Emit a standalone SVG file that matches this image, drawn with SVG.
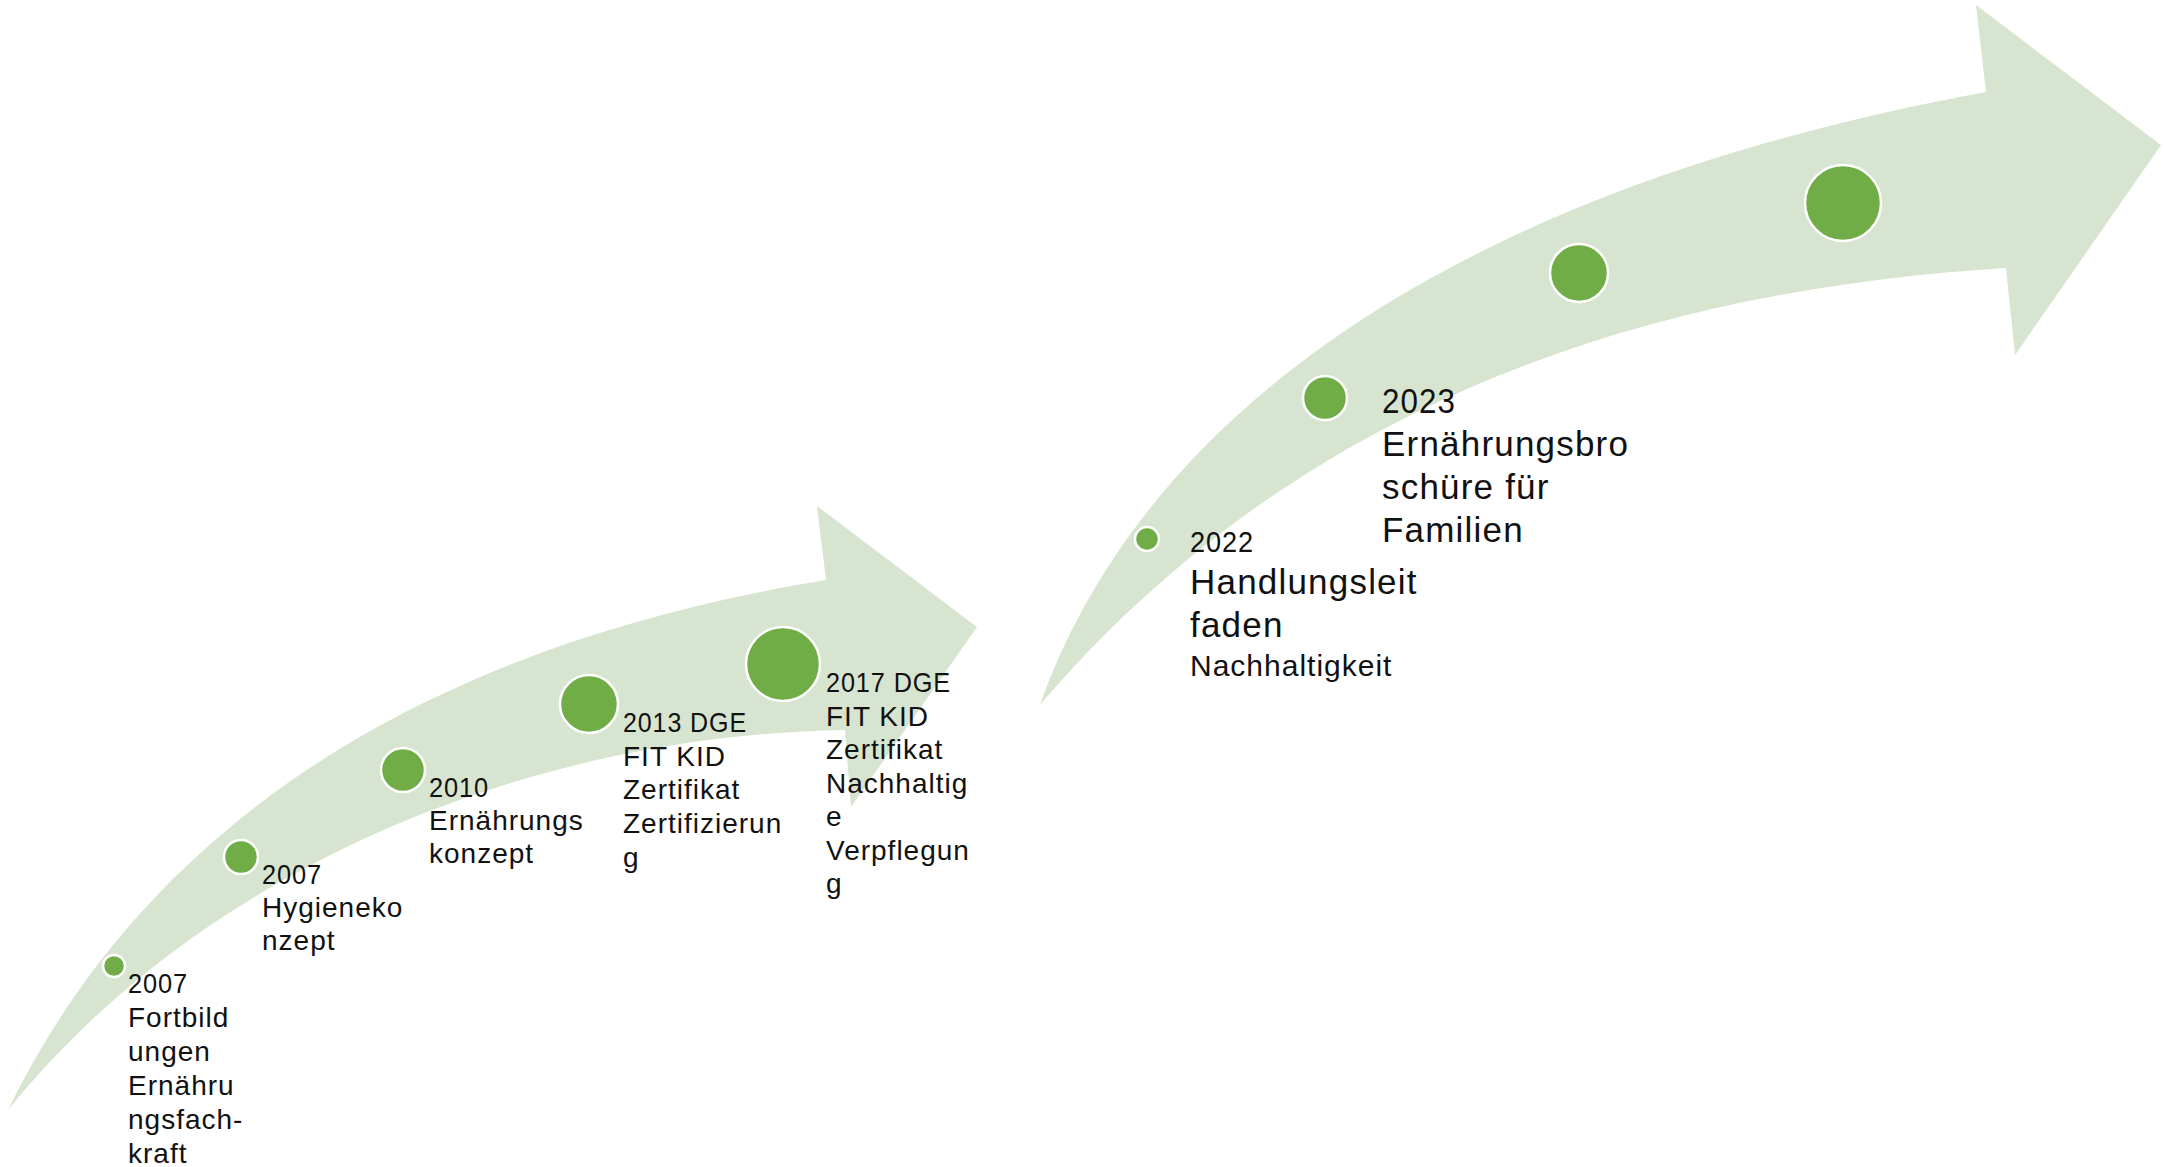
<svg xmlns="http://www.w3.org/2000/svg" width="2164" height="1167" viewBox="0 0 2164 1167">
<style>
.band{fill:#D7E4CF;stroke:none}
.dot{fill:#70AD47;stroke:#FFFFFF;stroke-width:2.5}
.s{font-family:"Liberation Sans",Arial,sans-serif;font-size:28px;letter-spacing:1px;fill:#111111}
.m{font-family:"Liberation Sans",Arial,sans-serif;font-size:30px;letter-spacing:1px;fill:#111111}
.l{font-family:"Liberation Sans",Arial,sans-serif;font-size:35px;letter-spacing:1.2px;fill:#111111}
</style>
<rect width="2164" height="1167" fill="#FFFFFF"/>
<g id="arrows">
<path class="band" d="M 8,1110 C 140,840 400,650 826,580 L 817,506 L 977,627 L 851,807 L 845,730 C 540,735 210,860 8,1110 Z"/>
<path class="band" d="M 1040,705 C 1130,450 1400,200 1986,92 L 1976,5 L 2161,145 L 2015,355 L 2006,268 C 1650,290 1300,400 1040,705 Z"/>
</g>
<g id="node-2007-fortbildungen">
<circle class="dot" cx="114" cy="966" r="11"/>
<text class="s"><tspan x="128" y="993" textLength="60" lengthAdjust="spacingAndGlyphs">2007</tspan><tspan x="128" y="1027">Fortbild</tspan><tspan x="128" y="1061">ungen</tspan><tspan x="128" y="1095">Ernähru</tspan><tspan x="128" y="1129">ngsfach-</tspan><tspan x="128" y="1163">kraft</tspan></text>
</g>
<g id="node-2007-hygienekonzept">
<circle class="dot" cx="241" cy="857" r="17"/>
<text class="s"><tspan x="262" y="884" textLength="60" lengthAdjust="spacingAndGlyphs">2007</tspan><tspan x="262" y="917">Hygieneko</tspan><tspan x="262" y="950">nzept</tspan></text>
</g>
<g id="node-2010">
<circle class="dot" cx="403" cy="770" r="22"/>
<text class="s"><tspan x="429" y="797" textLength="60" lengthAdjust="spacingAndGlyphs">2010</tspan><tspan x="429" y="830">Ernährungs</tspan><tspan x="429" y="863">konzept</tspan></text>
</g>
<g id="node-2013">
<circle class="dot" cx="589" cy="704" r="29"/>
<text class="s"><tspan x="623" y="732" textLength="124" lengthAdjust="spacingAndGlyphs">2013 DGE</tspan><tspan x="623" y="766">FIT KID</tspan><tspan x="623" y="799">Zertifikat</tspan><tspan x="623" y="833">Zertifizierun</tspan><tspan x="623" y="867">g</tspan></text>
</g>
<g id="node-2017">
<circle class="dot" cx="783" cy="664" r="37"/>
<text class="s"><tspan x="826" y="692" textLength="125" lengthAdjust="spacingAndGlyphs">2017 DGE</tspan><tspan x="826" y="726">FIT KID</tspan><tspan x="826" y="759">Zertifikat</tspan><tspan x="826" y="793">Nachhaltig</tspan><tspan x="826" y="826">e</tspan><tspan x="826" y="860">Verpflegun</tspan><tspan x="826" y="893">g</tspan></text>
</g>
<g id="node-2022">
<circle class="dot" cx="1147" cy="539" r="12"/>
<text class="m" x="1190" y="552" textLength="64" lengthAdjust="spacingAndGlyphs">2022</text>
<text class="l"><tspan x="1190" y="594">Handlungsleit</tspan><tspan x="1190" y="637">faden</tspan></text>
<text class="m" x="1190" y="676">Nachhaltigkeit</text>
</g>
<g id="node-2023">
<circle class="dot" cx="1325" cy="398" r="22"/>
<text class="l"><tspan x="1382" y="413" textLength="74" lengthAdjust="spacingAndGlyphs">2023</tspan><tspan x="1382" y="456">Ernährungsbro</tspan><tspan x="1382" y="499">schüre für</tspan><tspan x="1382" y="542">Familien</tspan></text>
</g>
<g id="node-3">
<circle class="dot" cx="1579" cy="273" r="29"/>
</g>
<g id="node-4">
<circle class="dot" cx="1843" cy="203" r="38"/>
</g>
</svg>
